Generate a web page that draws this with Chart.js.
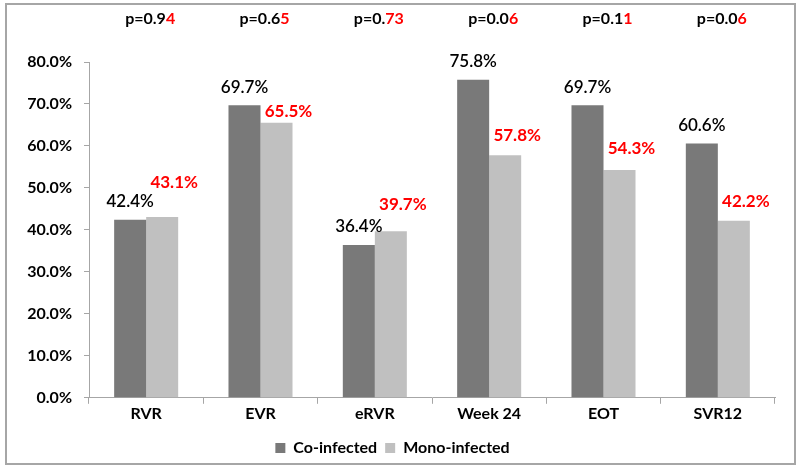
<!DOCTYPE html>
<html>
<head>
<meta charset="utf-8">
<script src="https://cdn.jsdelivr.net/npm/chart.js@4"></script>
<style>
  html, body { margin: 0; padding: 0; background: #fff; }
  #wrap { width: 800px; height: 471px; position: relative; }
</style>
</head>
<body>
<div id="wrap"><canvas id="chart" width="800" height="471"></canvas></div>
<script>
const categories = ["RVR", "EVR", "eRVR", "Week 24", "EOT", "SVR12"];
const coInfected = [42.4, 69.7, 36.4, 75.8, 69.7, 60.6];
const monoInfected = [43.1, 65.5, 39.7, 57.8, 54.3, 42.2];
// p-values: black leading part, red trailing digits
const pLead = ["p=0.9", "p=0.6", "p=0.", "p=0.0", "p=0.1", "p=0.0"];
const pTail = ["4", "5", "73", "6", "1", "6"];

// hand-placed lift of the red labels above their bars (px), as in the original
const monoLabelLift = [34, 11, 27, 20, 21, 19];

const FONT = "Lato, 'Open Sans', sans-serif";
const DARK = "#797979";
const LIGHT = "#c0c0c0";

const frame = {
  id: "frame",
  beforeDraw(chart) {
    const ctx = chart.ctx;
    ctx.save();
    ctx.strokeStyle = "#a6a6a6";
    ctx.lineWidth = 2;
    ctx.strokeRect(6, 4, 789, 460);
    ctx.restore();
  }
};

const labels = {
  id: "labels",
  afterDatasetsDraw(chart) {
    const ctx = chart.ctx;
    const co = chart.getDatasetMeta(0).data;
    const mono = chart.getDatasetMeta(1).data;
    ctx.save();
    ctx.textAlign = "center";
    ctx.textBaseline = "middle";
    co.forEach((bar, i) => {
      ctx.fillStyle = "#000";
      ctx.font = `600 17px ${FONT}`;
      ctx.fillText(coInfected[i].toFixed(1) + "%", bar.x, bar.y - 18);
    });
    mono.forEach((bar, i) => {
      ctx.fillStyle = "#ff0000";
      ctx.font = `bold 17px ${FONT}`;
      ctx.fillText(monoInfected[i].toFixed(1) + "%", bar.x + 12, bar.y - monoLabelLift[i]);
    });
    // p-values across the top
    const xs = chart.scales.x;
    ctx.font = `bold 16px ${FONT}`;
    ctx.textAlign = "left";
    categories.forEach((_, i) => {
      const w1 = ctx.measureText(pLead[i]).width;
      const w2 = ctx.measureText(pTail[i]).width;
      const x0 = xs.getPixelForValue(i) + 4 - (w1 + w2) / 2;
      ctx.fillStyle = "#000";
      ctx.fillText(pLead[i], x0, 19);
      ctx.fillStyle = "#ff0000";
      ctx.fillText(pTail[i], x0 + w1, 19);
    });
    ctx.restore();
  }
};

new Chart(document.getElementById("chart").getContext("2d"), {
  type: "bar",
  data: {
    labels: categories,
    datasets: [
      { label: "Co-infected", data: coInfected, backgroundColor: DARK },
      { label: "Mono-infected", data: monoInfected, backgroundColor: LIGHT }
    ]
  },
  options: {
    responsive: false,
    animation: false,
    devicePixelRatio: 1,
    categoryPercentage: 0.56,
    barPercentage: 1,
    layout: { padding: { top: 62, right: 25, left: 10, bottom: 5 } },
    plugins: {
      tooltip: { enabled: false },
      legend: {
        position: "bottom",
        labels: {
          color: "#000",
          font: { family: FONT, size: 16, weight: "bold" },
          boxWidth: 10,
          boxHeight: 10,
          padding: 8
        }
      }
    },
    scales: {
      x: {
        offset: true,
        afterFit(scale) { scale.height += 9; },
        grid: { offset: true, drawOnChartArea: false, tickLength: 6, color: "#a6a6a6" },
        border: { color: "#a6a6a6" },
        ticks: { color: "#000", font: { family: FONT, size: 16, weight: "bold" }, padding: 0 }
      },
      y: {
        min: 0,
        max: 80,
        afterFit(scale) { scale.width = 79; },
        grid: { drawOnChartArea: false, tickLength: 5, color: "#a6a6a6" },
        border: { color: "#a6a6a6" },
        ticks: {
          stepSize: 10,
          padding: 12,
          color: "#000",
          font: { family: FONT, size: 16, weight: "bold" },
          callback: (v) => v.toFixed(1) + "%"
        }
      }
    }
  },
  plugins: [frame, labels]
});
</script>
</body>
</html>
